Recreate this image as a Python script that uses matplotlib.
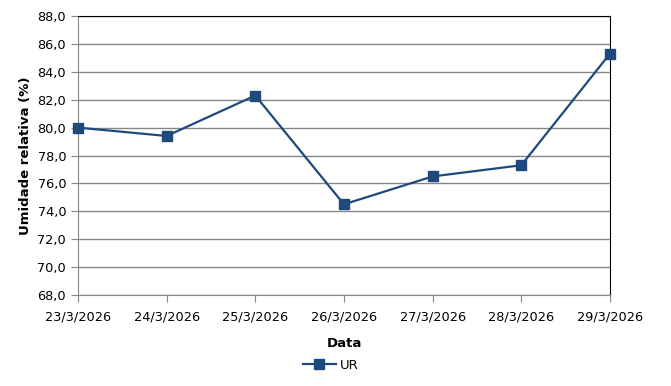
import matplotlib
matplotlib.use('agg')
import matplotlib.pyplot as plt
from matplotlib.ticker import FuncFormatter

datas = ['23/3/2026', '24/3/2026', '25/3/2026', '26/3/2026', '27/3/2026', '28/3/2026', '29/3/2026']
ur = [80.0, 79.4, 82.3, 74.5, 76.5, 77.3, 85.3]
yticks = [68, 70, 72, 74, 76, 78, 80, 82, 84, 86, 88]

cor = '#1F497D'
cinza = '#868686'

fig = plt.figure(figsize=(6.71, 3.86), dpi=100)
ax = fig.add_axes([0.1162, 0.2358, 0.7928, 0.7227])

x = list(range(len(datas)))
ax.plot(x, ur, color=cor, lw=1.6, marker='s', ms=6.5, label='UR', clip_on=False, zorder=3)

ax.set_xlim(0, len(datas) - 1)
ax.set_ylim(68, 88)
ax.set_yticks(yticks)
ax.yaxis.set_major_formatter(FuncFormatter(lambda v, p: ('%.1f' % v).replace('.', ',')))
ax.set_xticks(x)
ax.set_xticklabels(datas)
ax.grid(axis='y', color=cinza, lw=1)
ax.set_axisbelow(True)

for s in ['left', 'bottom']:
    ax.spines[s].set_color(cinza)
for s in ['top', 'right']:
    ax.spines[s].set_color('black')
ax.tick_params(axis='both', colors=cinza, labelcolor='black', labelsize=9.3, length=5)
ax.tick_params(axis='x', pad=6)

ax.set_xlabel('Data', fontsize=9.5, fontweight='bold', labelpad=10)
ax.set_ylabel('Umidade relativa (%)', fontsize=9.5, fontweight='bold', labelpad=4)

fig.legend(loc='center', bbox_to_anchor=(0.493, 0.054), frameon=False, fontsize=9.5,
           handlelength=2.5, handletextpad=0.3)

fig.savefig('out.png', dpi=100)
